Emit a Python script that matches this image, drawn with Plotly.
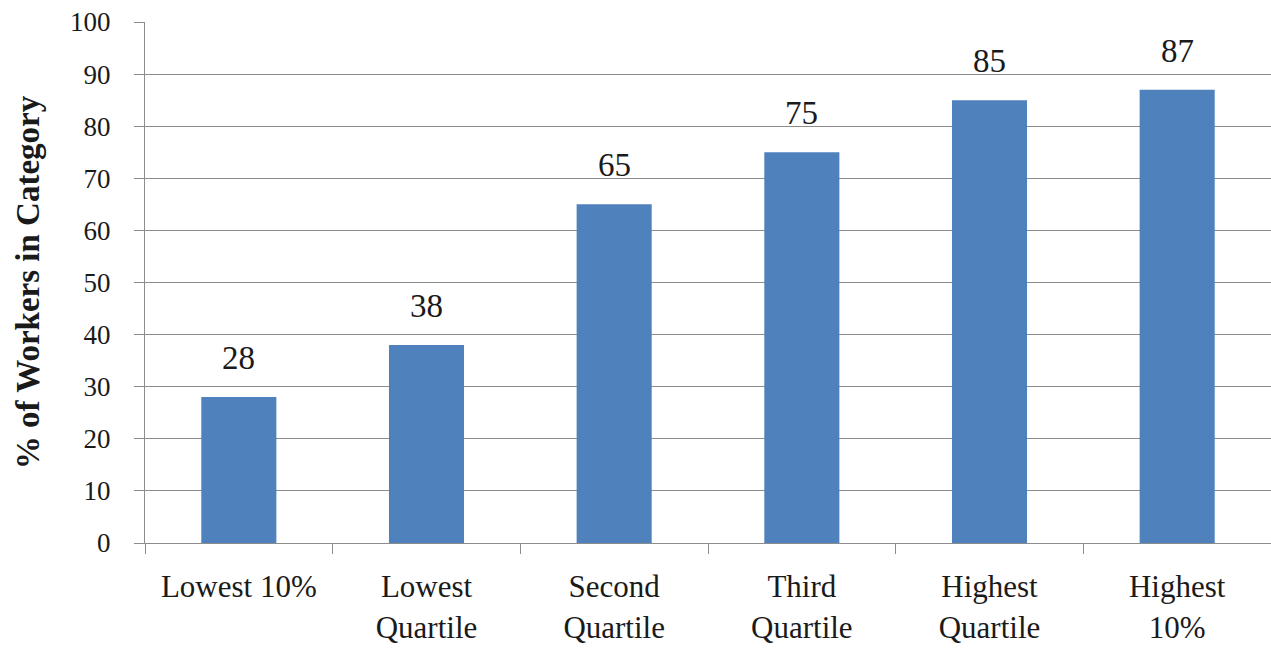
import plotly.graph_objects as go

categories = ["Lowest 10%", "Lowest<br>Quartile", "Second<br>Quartile",
              "Third<br>Quartile", "Highest<br>Quartile", "Highest<br>10%"]
values = [28, 38, 65, 75, 85, 87]
y_ticks = [0, 10, 20, 30, 40, 50, 60, 70, 80, 90, 100]

serif = "Liberation Serif, DejaVu Serif, serif"
grid = "#8c8c8c"
ink = "#1a1a1a"

fig = go.Figure(go.Bar(
    x=categories,
    y=values,
    width=0.4,
    marker=dict(color="#4F81BD", line=dict(width=0)),
))

# value labels above each bar
for c, v in zip(categories, values):
    fig.add_annotation(x=c, y=v, text=str(v), showarrow=False,
                       yanchor="bottom", yshift=19,
                       font=dict(family=serif, size=33, color=ink))

fig.update_layout(
    width=1271, height=650,
    margin=dict(l=145, r=0, t=22, b=107),
    paper_bgcolor="white", plot_bgcolor="white",
    showlegend=False,
    font=dict(family=serif, size=26, color=ink),
)

fig.update_xaxes(
    type="category",
    showgrid=False,
    showline=True, linecolor=grid, linewidth=1.3,
    ticks="outside", tickson="boundaries", ticklen=10, tickcolor=grid, tickwidth=1.3,
    tickfont=dict(family=serif, size=31, color=ink),
    ticklabelstandoff=16,
)

fig.update_yaxes(
    range=[0, 100],
    tickvals=y_ticks,
    showgrid=True, gridcolor=grid, gridwidth=1.3,
    showline=True, linecolor=grid, linewidth=1.3,
    ticks="outside", ticklen=10, tickcolor=grid, tickwidth=1.3,
    tickfont=dict(family=serif, size=27, color=ink),
    ticklabelstandoff=18,
    title=dict(text="<b>% of Workers in Category</b>",
               font=dict(family=serif, size=33, color=ink), standoff=20),
    zeroline=False,
)

fig.write_html("out.html")
